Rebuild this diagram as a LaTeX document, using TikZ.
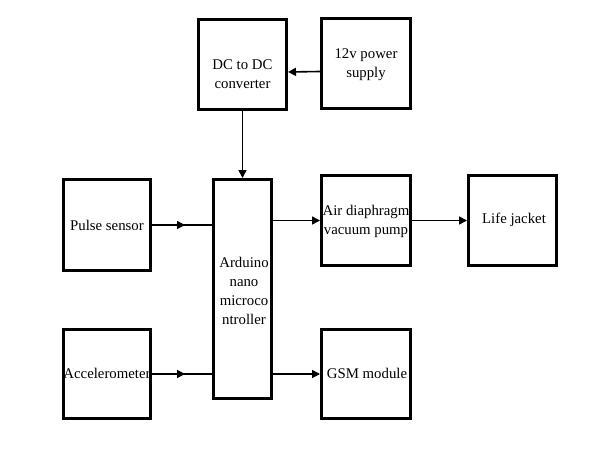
\documentclass[tikz,border=0pt]{standalone}
\usepackage{fontspec}
\setmainfont{Liberation Serif}
\usetikzlibrary{arrows.meta,decorations.markings}
\begin{document}
\begin{tikzpicture}[x=1pt,y=-1pt,
  blk/.style={draw,line width=3pt,inner sep=0pt,minimum width=#1},
  txt/.style={inner sep=0pt,align=center,font=\fontsize{14.8}{19}\selectfont},
  arr/.style={line width=1.6pt,-{Triangle[length=8pt,width=8pt]}},
  midarr/.style={line width=1.6pt,postaction={decorate},
    decoration={markings,mark=at position 0.55 with {\arrow{Triangle[length=8pt,width=8pt]}}}}]
\useasboundingbox[fill=white] (0,0) rectangle (593,473);
% boxes
\node[blk=88pt,minimum height=90pt] (dc) at (242.5,64.5) {};
\node[blk=89pt,minimum height=90pt] (p12) at (366,64) {};
\node[blk=87pt,minimum height=91pt] (pulse) at (107,225) {};
\node[blk=58pt,minimum height=219pt] (ard) at (242.5,289) {};
\node[blk=89pt,minimum height=90pt] (air) at (366,220.5) {};
\node[blk=88pt,minimum height=90pt] (life) at (512.5,220.5) {};
\node[blk=87pt,minimum height=89pt] (acc) at (107,374) {};
\node[blk=89pt,minimum height=89pt] (gsm) at (366,374) {};
% texts
\node[txt] (tdc) at (242.5,74.5) {DC to DC\\converter};
\node[txt] (tp12) at (366,65) {12v power\\supply};
\node[txt] (tpulse) at (107,225) {Pulse sensor};
\node[txt] (tard) at (244,291) {Arduino\\nano\\microco\\ntroller};
\node[txt] (tair) at (366,221) {Air diaphragm\\vacuum pump};
\node[txt] (tlife) at (514,220) {Life jacket};
\node[txt] (tacc) at (107,373) {Accelerometer};
\node[txt] (tgsm) at (367,373) {GSM module};
% connectors
\draw[arr] ([yshift=-7.5pt]p12.west) -- ([yshift=-7.5pt]dc.east);
\draw[arr] (dc.south) -- (ard.north);
\draw[midarr] (pulse.east) -- (pulse.east -| ard.west);
\draw[midarr] (acc.east) -- (acc.east -| ard.west);
\draw[arr] (air.west -| ard.east) -- (air.west);
\draw[arr] (gsm.west -| ard.east) -- (gsm.west);
\draw[arr] (air.east) -- (life.west);
\end{tikzpicture}
\end{document}
